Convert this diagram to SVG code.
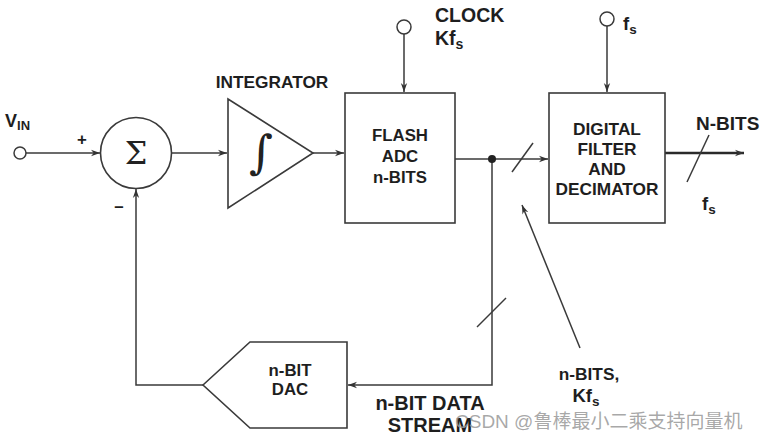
<svg xmlns="http://www.w3.org/2000/svg" width="762" height="438" viewBox="0 0 762 438">
<defs>
<marker id="ah" viewBox="0 0 10 10" refX="10" refY="5" markerWidth="9" markerHeight="9" markerUnits="userSpaceOnUse" orient="auto"><path d="M0,1.5 L10,5 L0,8.5 L3,5 Z" fill="#333"/></marker>
</defs>
<style>
.ln{fill:none;stroke:#3a3a3a;stroke-width:1.5}
.bx{fill:#fff;stroke:#3a3a3a;stroke-width:1.6}
.t{font-family:"Liberation Sans",Arial,sans-serif;font-weight:bold;font-size:16.8px;fill:#1e1e1e;text-anchor:middle}
.tl{text-anchor:start}
.sub{font-size:12px}
</style>
<rect width="762" height="438" fill="#fff"/>
<g id="connectors">
<line class="ln" x1="26" y1="153" x2="100" y2="153" marker-end="url(#ah)"/>
<line class="ln" x1="172" y1="153" x2="227" y2="153" marker-end="url(#ah)"/>
<line class="ln" x1="313" y1="153" x2="344" y2="153" marker-end="url(#ah)"/>
<line class="ln" x1="404" y1="34" x2="404" y2="92" marker-end="url(#ah)"/>
<line class="ln" x1="607" y1="26" x2="607" y2="92" marker-end="url(#ah)"/>
<line class="ln" x1="455" y1="159" x2="548" y2="159" marker-end="url(#ah)"/>
<line class="ln" x1="512" y1="172" x2="533" y2="143"/>
<line x1="665" y1="153" x2="744" y2="153" stroke="#2a2a2a" stroke-width="2.6" marker-end="url(#ah)"/>
<line class="ln" x1="687" y1="182" x2="709" y2="135"/>
<polyline class="ln" points="492,159 492,385 348,385" marker-end="url(#ah)"/>
<line class="ln" x1="477" y1="327" x2="506" y2="298"/>
<polyline class="ln" points="203,385 136,385 136,189" marker-end="url(#ah)"/>
<line class="ln" x1="580" y1="348" x2="522" y2="205" marker-end="url(#ah)"/>
<circle cx="492" cy="159" r="4" fill="#222"/>
</g>
<g id="vin">
<circle cx="20" cy="153" r="6" fill="#fff" stroke="#3a3a3a" stroke-width="1.5"/>
<text class="t tl" x="5" y="127" style="font-size:18px">V<tspan class="sub" style="font-size:13px" dy="3">IN</tspan></text>
<text class="t" x="82" y="145">+</text>
<text class="t" x="119" y="212">–</text>
</g>
<g id="sum">
<circle cx="136" cy="153" r="35.5" class="bx"/>
<text x="136" y="164" font-family="DejaVu Serif,serif" font-size="32" fill="#222" text-anchor="middle">Σ</text>
</g>
<g id="integrator">
<polygon class="bx" points="228,99 228,208 313,153"/>
<text x="261" y="168" font-family="DejaVu Serif,serif" font-size="46" fill="#222" text-anchor="middle">∫</text>
<text class="t" x="272" y="88" style="font-size:17.3px">INTEGRATOR</text>
</g>
<g id="flash-adc">
<rect class="bx" x="345" y="93" width="110" height="130"/>
<text class="t" x="400" y="141">FLASH</text>
<text class="t" x="400" y="162">ADC</text>
<text class="t" x="400" y="183">n-BITS</text>
</g>
<g id="clock">
<circle cx="404" cy="27" r="7" fill="#fff" stroke="#3a3a3a" stroke-width="1.5"/>
<text class="t tl" x="435" y="22" style="font-size:19.5px">CLOCK</text>
<text class="t tl" x="435" y="45" style="font-size:19.5px">Kf<tspan class="sub" style="font-size:14px" dy="4">s</tspan></text>
</g>
<g id="digital-filter">
<rect class="bx" x="549" y="93" width="116" height="130"/>
<text class="t" x="607" y="135" style="font-size:17.3px">DIGITAL</text>
<text class="t" x="607" y="155" style="font-size:17.3px">FILTER</text>
<text class="t" x="607" y="175" style="font-size:17.3px">AND</text>
<text class="t" x="607" y="195" style="font-size:17.3px">DECIMATOR</text>
</g>
<g id="fs-clock">
<circle cx="607" cy="19" r="7" fill="#fff" stroke="#3a3a3a" stroke-width="1.5"/>
<text class="t tl" x="623" y="30" style="font-size:18.5px">f<tspan class="sub" style="font-size:13.5px" dy="4">s</tspan></text>
</g>
<g id="output">
<text class="t tl" x="696" y="130" style="font-size:19px">N-BITS</text>
<text class="t tl" x="702" y="210" style="font-size:18.5px">f<tspan class="sub" style="font-size:13.5px" dy="4">s</tspan></text>
</g>
<g id="dac">
<polygon class="bx" points="203,385 250,342 347,342 347,428 250,428"/>
<text class="t" x="290" y="376">n-BIT</text>
<text class="t" x="290" y="395">DAC</text>
</g>
<g id="labels">
<text class="t" x="430" y="410" style="font-size:20px">n-BIT DATA</text>
<text class="t" x="430" y="432" style="font-size:20px">STREAM</text>
<text class="t" x="589" y="380" style="font-size:17.3px">n-BITS,</text>
<text class="t" x="586" y="402" style="font-size:18.5px">Kf<tspan class="sub" style="font-size:13.5px" dy="4">s</tspan></text>
</g>
<g id="watermark">
<text x="455" y="428" font-family="Liberation Sans,'Noto Sans CJK SC',sans-serif" font-size="19" fill="#999" fill-opacity="0.85">CSDN @鲁棒最小二乘支持向量机</text>
</g>
</svg>
